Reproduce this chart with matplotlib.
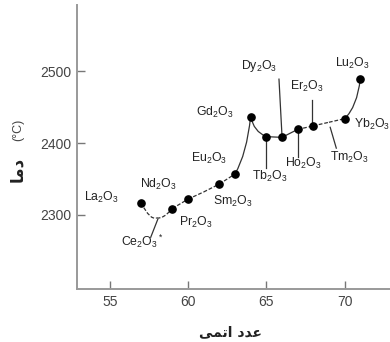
import matplotlib
matplotlib.use("Agg")
import matplotlib.pyplot as plt
from matplotlib.path import Path
from matplotlib.patches import PathPatch

plt.rcParams['font.family'] = ['Liberation Sans', 'DejaVu Sans']
plt.rcParams['mathtext.default'] = 'regular'

# Data
atomic_number = [57, 58, 59, 60, 61, 62, 63, 64, 65, 66, 67, 68, 69, 70, 71]
melting_point = [2317, 2296, 2309, 2322, 2332, 2343, 2357, 2437, 2409, 2408, 2419, 2424, 2429, 2434, 2489]
has_marker = [True, False, True, True, False, True, True, True, True, True, True, True, False, True, True]
segment_dashed = [True, True, True, True, True, True, False, False, False, False, True, True, True, False]
oxide_labels = ['La$_2$O$_3$', 'Ce$_2$O$_3$$^*$', 'Pr$_2$O$_3$', 'Nd$_2$O$_3$', None, 'Sm$_2$O$_3$',
                'Eu$_2$O$_3$', 'Gd$_2$O$_3$', 'Tb$_2$O$_3$', 'Dy$_2$O$_3$', 'Ho$_2$O$_3$', 'Er$_2$O$_3$',
                'Tm$_2$O$_3$', 'Yb$_2$O$_3$', 'Lu$_2$O$_3$']
x_ticks = [55, 60, 65, 70]
y_ticks = [2300, 2400, 2500]
xlabel_text = "\uFEF0\uFEE4\uFE97\uFE8D \uFEA9\uFEAA\uFECB"   # عدد اتمی (visual form)
ylabel_text = "\uFE8E\uFEE3\uFEA9"                          # دما (visual form)

# curve bend per segment (fraction along x, fraction along y for control point)
bend = {6: (0.75, 0.35), 7: (0.2, 0.75), 13: (0.8, 0.3), 0: (0.6, 1.2), 1: (0.4, -0.2)}

# label text positions (data coords) and leader lines
label_pos = {
    0: (54.47, 2325), 1: (57.10, 2263), 2: (60.49, 2290), 3: (58.12, 2342),
    5: (62.87, 2319), 6: (61.33, 2379), 7: (61.70, 2442), 8: (65.24, 2354),
    9: (64.53, 2507), 10: (67.35, 2371), 11: (67.55, 2479), 12: (70.30, 2380),
    13: (71.75, 2426), 14: (70.49, 2511),
}
leaders = [
    ((57.62, 2269), (58.07, 2294)),
    ((65.81, 2489), (66.0, 2411)),
    ((67.93, 2460), (67.93, 2428)),
    ((64.98, 2405), (64.98, 2366)),
    ((67.03, 2414), (67.03, 2381)),
    ((69.08, 2422), (69.47, 2393)),
]

fig = plt.figure(figsize=(3.9, 3.42), dpi=100)
ax = fig.add_axes([0.197, 0.155, 0.803, 0.83])
ax.set_xlim(52.9, 72.9)
ax.set_ylim(2197, 2592)

line_col = '#333333'
for i in range(len(atomic_number) - 1):
    x0, x1 = atomic_number[i], atomic_number[i + 1]
    y0, y1 = melting_point[i], melting_point[i + 1]
    ls = (0, (3, 1.5)) if segment_dashed[i] else '-'
    if i in bend:
        f, g = bend[i]
        cx, cy = x0 + f * (x1 - x0), y0 + g * (y1 - y0)
        p = Path([(x0, y0), (cx, cy), (x1, y1)], [Path.MOVETO, Path.CURVE3, Path.CURVE3])
        ax.add_patch(PathPatch(p, fill=False, edgecolor=line_col, lw=0.9, ls=ls, zorder=2))
    else:
        ax.plot([x0, x1], [y0, y1], color=line_col, lw=0.9, ls=ls, zorder=2)

mx = [x for x, m in zip(atomic_number, has_marker) if m]
my = [y for y, m in zip(melting_point, has_marker) if m]
ax.plot(mx, my, 'o', color='black', ms=5.2, zorder=3)

for i, lab in enumerate(oxide_labels):
    if lab is None or i not in label_pos:
        continue
    x, y = label_pos[i]
    ax.text(x, y, lab, fontsize=8.8, color='#222222', ha='center', va='center')

for (x0, y0), (x1, y1) in leaders:
    ax.plot([x0, x1], [y0, y1], color=line_col, lw=0.9, zorder=2)

for s in ['top', 'right']:
    ax.spines[s].set_visible(False)
for s in ['left', 'bottom']:
    ax.spines[s].set_color('#999999')
    ax.spines[s].set_linewidth(1.4)

ax.set_xticks(x_ticks)
ax.set_yticks(y_ticks)
ax.tick_params(direction='in', length=6, width=1, color='#777777',
               labelsize=10, labelcolor='#444444', pad=4)

fig.text(0.59, 0.03, xlabel_text, fontsize=10, fontweight='bold', color='#222222',
         ha='center', va='center', family='DejaVu Sans')
fig.text(0.044, 0.505, ylabel_text, fontsize=12, fontweight='bold', color='#222222',
         ha='center', va='center', rotation=90, family='DejaVu Sans')
fig.text(0.046, 0.62, '(°C)', fontsize=9, color='#444444',
         ha='center', va='center', rotation=90)

fig.savefig('out.png', dpi=100)
